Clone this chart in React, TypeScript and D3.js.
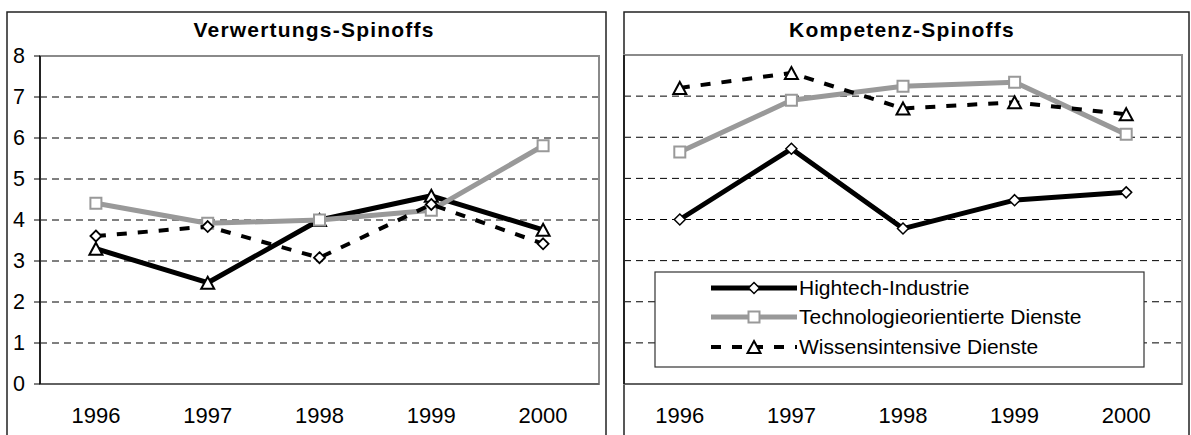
import React from "react";
import * as d3 from "d3";

const years = ["1996", "1997", "1998", "1999", "2000"];
const yTicks = [0, 1, 2, 3, 4, 5, 6, 7, 8];

// Left panel: Verwertungs-Spinoffs
const leftSolidBlack = [3.3, 2.47, 4.0, 4.59, 3.76]; // solid black line, triangle markers
const leftGray = [4.41, 3.92, 4.0, 4.24, 5.81];
const leftDashed = [3.61, 3.84, 3.08, 4.38, 3.42]; // dashed line, diamond markers

// Right panel: Kompetenz-Spinoffs
const hightech = [4.0, 5.72, 3.78, 4.47, 4.66];
const techDienste = [5.64, 6.9, 7.24, 7.34, 6.07];
const wissensDienste = [7.2, 7.56, 6.7, 6.85, 6.56];

const legendLabels = ["Hightech-Industrie", "Technologieorientierte Dienste", "Wissensintensive Dienste"];

const FONT = "'Liberation Sans', Arial, sans-serif";

type Marker = "diamond" | "square" | "triangle";

function markerPath(kind: Marker, x: number, y: number): string {
  if (kind === "diamond") {
    const r = 5.5;
    return `M${x},${y - r}L${x + r},${y}L${x},${y + r}L${x - r},${y}Z`;
  }
  if (kind === "square") {
    const r = 5.5;
    return `M${x - r},${y - r}H${x + r}V${y + r}H${x - r}Z`;
  }
  const w = 6.5, h = 6;
  return `M${x},${y - h}L${x + w},${y + h}L${x - w},${y + h}Z`;
}

interface SeriesStyle {
  values: number[];
  stroke: string;
  width: number;
  dash?: string;
  marker: Marker;
  mStroke: string;
  mWidth: number;
}

const solidBlack = { stroke: "#000", width: 5 };
const grayStyle = { stroke: "#999", width: 5 };
const dashedStyle = { stroke: "#000", width: 4, dash: "10,11" };

function Panel(props: {
  x0: number; x1: number; top: number; plotLeft: number; plotRight: number; plotTop: number;
  plotBottom: number; title: string; titleX: number; showY: boolean; series: SeriesStyle[];
  legend?: boolean;
}) {
  const { x0, x1, top, plotLeft, plotRight, plotTop, plotBottom, title, titleX, showY, series } = props;
  const x = d3.scaleBand<string>().domain(years).range([plotLeft, plotRight]).padding(0);
  const y = d3.scaleLinear().domain([0, 8]).range([plotBottom, plotTop]);
  const cx = (d: string) => (x(d) as number) + x.bandwidth() / 2;
  const line = d3.line<number>().x((_, i) => cx(years[i])).y((v) => y(v));

  return (
    <g>
      <rect x={x0} y={top} width={x1 - x0} height={460} fill="#fff" stroke="#222" strokeWidth={1.5} />
      <text x={titleX} y={37} textAnchor="middle" fontFamily={FONT} fontWeight="bold" fontSize={21}
        letterSpacing={1.2} fill="#000">{title}</text>
      {/* grid */}
      {yTicks.filter((t) => t > 0 && t < 8).map((t) => (
        <line key={t} x1={plotLeft} x2={plotRight} y1={y(t)} y2={y(t)} stroke="#000" strokeWidth={1}
          strokeDasharray="7,5" />
      ))}
      <rect x={plotLeft} y={plotTop} width={plotRight - plotLeft} height={plotBottom - plotTop}
        fill="none" stroke="#8a8a8a" strokeWidth={2} />
      <line x1={plotLeft} x2={plotRight} y1={plotBottom} y2={plotBottom} stroke="#555" strokeWidth={1.5} />
      <line x1={plotLeft} x2={plotLeft} y1={plotTop} y2={plotBottom} stroke="#000" strokeWidth={1.5} />
      {showY && yTicks.map((t) => (
        <g key={t}>
          <line x1={plotLeft - 6} x2={plotLeft} y1={y(t)} y2={y(t)} stroke="#000" strokeWidth={1} />
          <text x={25} y={y(t) + 7} textAnchor="end" fontFamily={FONT} fontSize={21.5} fill="#000">{t}</text>
        </g>
      ))}
      {years.map((yr) => (
        <text key={yr} x={cx(yr)} y={423} textAnchor="middle" fontFamily={FONT} fontSize={22} fill="#000">{yr}</text>
      ))}
      {series.map((s, i) => (
        <g key={i}>
          <path d={line(s.values) || ""} fill="none" stroke={s.stroke} strokeWidth={s.width}
            strokeDasharray={s.dash} strokeLinejoin="round" />
          {s.values.map((v, j) => (
            <path key={j} d={markerPath(s.marker, cx(years[j]), y(v))} fill="#fff" stroke={s.mStroke}
              strokeWidth={s.mWidth} />
          ))}
        </g>
      ))}
    </g>
  );
}

function Legend() {
  const bx = 655, by = 272, bw = 489, bh = 95;
  const rows = [
    { label: legendLabels[0], ...solidBlack, marker: "diamond" as Marker, mStroke: "#000", mWidth: 1.5, dash: undefined },
    { label: legendLabels[1], ...grayStyle, marker: "square" as Marker, mStroke: "#999", mWidth: 2, dash: undefined },
    { label: legendLabels[2], ...dashedStyle, marker: "triangle" as Marker, mStroke: "#000", mWidth: 2 },
  ];
  const rowY = [288, 317, 347];
  return (
    <g>
      <rect x={bx} y={by} width={bw} height={bh} fill="#fff" stroke="#333" strokeWidth={1.2} />
      {rows.map((r, i) => (
        <g key={i}>
          <line x1={711} x2={797} y1={rowY[i]} y2={rowY[i]} stroke={r.stroke} strokeWidth={r.width}
            strokeDasharray={r.dash} />
          <path d={markerPath(r.marker, 754, rowY[i])} fill="#fff" stroke={r.mStroke} strokeWidth={r.mWidth} />
          <text x={799} y={rowY[i] + 7} fontFamily={FONT} fontSize={21} fill="#000">{r.label}</text>
        </g>
      ))}
    </g>
  );
}

export default function App() {
  const leftSeries: SeriesStyle[] = [
    { values: leftSolidBlack, ...solidBlack, marker: "triangle", mStroke: "#000", mWidth: 2 },
    { values: leftGray, ...grayStyle, marker: "square", mStroke: "#999", mWidth: 2 },
    { values: leftDashed, ...dashedStyle, marker: "diamond", mStroke: "#000", mWidth: 1.8 },
  ];
  const rightSeries: SeriesStyle[] = [
    { values: hightech, ...solidBlack, marker: "diamond", mStroke: "#000", mWidth: 1.5 },
    { values: techDienste, ...grayStyle, marker: "square", mStroke: "#999", mWidth: 2 },
    { values: wissensDienste, ...dashedStyle, marker: "triangle", mStroke: "#000", mWidth: 2 },
  ];
  return (
    <svg width={1191} height={435} style={{ position: "absolute", left: 0, top: 0, background: "#fff" }}>
      <rect x={0} y={0} width={1191} height={435} fill="#fff" />
      <Panel x0={7} x1={606} top={12} plotLeft={40} plotRight={599} plotTop={56} plotBottom={384}
        title="Verwertungs-Spinoffs" titleX={314} showY={true} series={leftSeries} />
      <Panel x0={624} x1={1189} top={12} plotLeft={624} plotRight={1182} plotTop={55} plotBottom={384}
        title="Kompetenz-Spinoffs" titleX={902} showY={false} series={rightSeries} />
      <Legend />
    </svg>
  );
}
